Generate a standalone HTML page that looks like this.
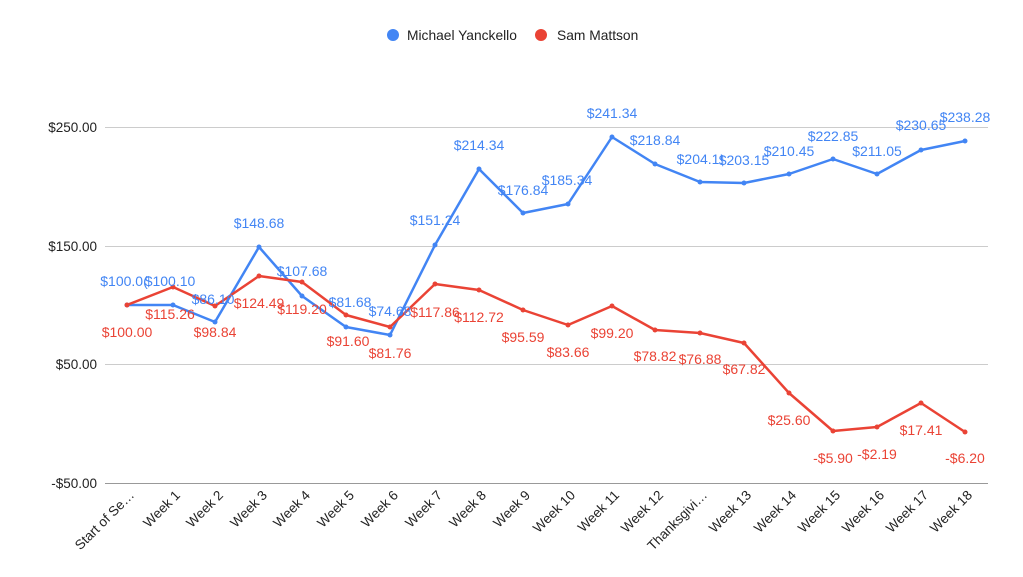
<!DOCTYPE html>
<html><head><meta charset="utf-8"><style>body{margin:0;background:#fff}svg{display:block;font-family:"Liberation Sans",Arial,sans-serif}</style></head><body>
<svg width="1023" height="577" viewBox="0 0 1023 577">
<g stroke="#ccc" stroke-width="1"><line x1="105" y1="127.5" x2="988" y2="127.5"/><line x1="105" y1="246.5" x2="988" y2="246.5"/><line x1="105" y1="364.5" x2="988" y2="364.5"/><line x1="105" y1="483.5" x2="988" y2="483.5" stroke="#999"/></g>
<g font-size="13.5" fill="#222" text-anchor="end"><text x="97" y="132">$250.00</text><text x="97" y="251">$150.00</text><text x="97" y="369">$50.00</text><text x="97" y="488">-$50.00</text></g>
<circle cx="393" cy="35" r="6" fill="#4285f4"/><text x="407" y="40" font-size="13.8" fill="#222">Michael Yanckello</text>
<circle cx="541" cy="35" r="6" fill="#ea4335"/><text x="557" y="40" font-size="13.8" fill="#222">Sam Mattson</text>
<polyline fill="none" stroke="#4285f4" stroke-width="2.5" stroke-linejoin="round" points="127,305 173,305 215,322 259,247 302,296 346,327 390,335 435,245 479,169 523,213 568,204 612,137 655,164 700,182 744,183 789,174 833,159 877,174 921,150 965,141"/>
<polyline fill="none" stroke="#ea4335" stroke-width="2.5" stroke-linejoin="round" points="127,305 173,287 215,306 259,276 302,282 346,315 390,327 435,284 479,290 523,310 568,325 612,306 655,330 700,333 744,343 789,393 833,431 877,427 921,403 965,432"/>
<g fill="#4285f4"><circle cx="127" cy="305" r="2.5"/><circle cx="173" cy="305" r="2.5"/><circle cx="215" cy="322" r="2.5"/><circle cx="259" cy="247" r="2.5"/><circle cx="302" cy="296" r="2.5"/><circle cx="346" cy="327" r="2.5"/><circle cx="390" cy="335" r="2.5"/><circle cx="435" cy="245" r="2.5"/><circle cx="479" cy="169" r="2.5"/><circle cx="523" cy="213" r="2.5"/><circle cx="568" cy="204" r="2.5"/><circle cx="612" cy="137" r="2.5"/><circle cx="655" cy="164" r="2.5"/><circle cx="700" cy="182" r="2.5"/><circle cx="744" cy="183" r="2.5"/><circle cx="789" cy="174" r="2.5"/><circle cx="833" cy="159" r="2.5"/><circle cx="877" cy="174" r="2.5"/><circle cx="921" cy="150" r="2.5"/><circle cx="965" cy="141" r="2.5"/></g>
<g fill="#ea4335"><circle cx="127" cy="305" r="2.5"/><circle cx="173" cy="287" r="2.5"/><circle cx="215" cy="306" r="2.5"/><circle cx="259" cy="276" r="2.5"/><circle cx="302" cy="282" r="2.5"/><circle cx="346" cy="315" r="2.5"/><circle cx="390" cy="327" r="2.5"/><circle cx="435" cy="284" r="2.5"/><circle cx="479" cy="290" r="2.5"/><circle cx="523" cy="310" r="2.5"/><circle cx="568" cy="325" r="2.5"/><circle cx="612" cy="306" r="2.5"/><circle cx="655" cy="330" r="2.5"/><circle cx="700" cy="333" r="2.5"/><circle cx="744" cy="343" r="2.5"/><circle cx="789" cy="393" r="2.5"/><circle cx="833" cy="431" r="2.5"/><circle cx="877" cy="427" r="2.5"/><circle cx="921" cy="403" r="2.5"/><circle cx="965" cy="432" r="2.5"/></g>
<g font-size="14" fill="#4285f4" text-anchor="middle">
<text x="124" y="286">$100.0(</text><text x="170" y="286">$100.10</text><text x="213" y="304">$86.10</text><text x="259" y="228">$148.68</text><text x="302" y="276">$107.68</text><text x="350" y="307">$81.68</text><text x="390" y="316">$74.68</text><text x="435" y="225">$151.24</text><text x="479" y="150">$214.34</text><text x="523" y="195">$176.84</text><text x="567" y="185">$185.34</text><text x="612" y="118">$241.34</text><text x="655" y="145">$218.84</text><text x="700" y="164">$204.1!</text><text x="744" y="165">$203.15</text><text x="789" y="156">$210.45</text><text x="833" y="141">$222.85</text><text x="877" y="156">$211.05</text><text x="921" y="130">$230.65</text><text x="965" y="122">$238.28</text></g>
<g font-size="14" fill="#ea4335" text-anchor="middle">
<text x="127" y="337">$100.00</text><text x="170" y="319">$115.26</text><text x="215" y="337">$98.84</text><text x="259" y="308">$124.49</text><text x="302" y="314">$119.20</text><text x="348" y="346">$91.60</text><text x="390" y="358">$81.76</text><text x="435" y="317">$117.86</text><text x="479" y="322">$112.72</text><text x="523" y="342">$95.59</text><text x="568" y="357">$83.66</text><text x="612" y="338">$99.20</text><text x="655" y="361">$78.82</text><text x="700" y="364">$76.88</text><text x="744" y="374">$67.82</text><text x="789" y="425">$25.60</text><text x="833" y="463">-$5.90</text><text x="877" y="459">-$2.19</text><text x="921" y="435">$17.41</text><text x="965" y="463">-$6.20</text></g>
<g font-size="13.5" fill="#222" text-anchor="end">
<text transform="translate(135,496) rotate(-45)">Start of Se…</text><text transform="translate(181,496) rotate(-45)">Week 1</text><text transform="translate(224,496) rotate(-45)">Week 2</text><text transform="translate(268,496) rotate(-45)">Week 3</text><text transform="translate(311,496) rotate(-45)">Week 4</text><text transform="translate(355,496) rotate(-45)">Week 5</text><text transform="translate(399,496) rotate(-45)">Week 6</text><text transform="translate(443,496) rotate(-45)">Week 7</text><text transform="translate(487,496) rotate(-45)">Week 8</text><text transform="translate(531,496) rotate(-45)">Week 9</text><text transform="translate(576,496) rotate(-45)">Week 10</text><text transform="translate(620,496) rotate(-45)">Week 11</text><text transform="translate(664,496) rotate(-45)">Week 12</text><text transform="translate(708,496) rotate(-45)">Thanksgivi…</text><text transform="translate(752,496) rotate(-45)">Week 13</text><text transform="translate(797,496) rotate(-45)">Week 14</text><text transform="translate(841,496) rotate(-45)">Week 15</text><text transform="translate(885,496) rotate(-45)">Week 16</text><text transform="translate(929,496) rotate(-45)">Week 17</text><text transform="translate(973,496) rotate(-45)">Week 18</text></g>
</svg>
</body></html>
